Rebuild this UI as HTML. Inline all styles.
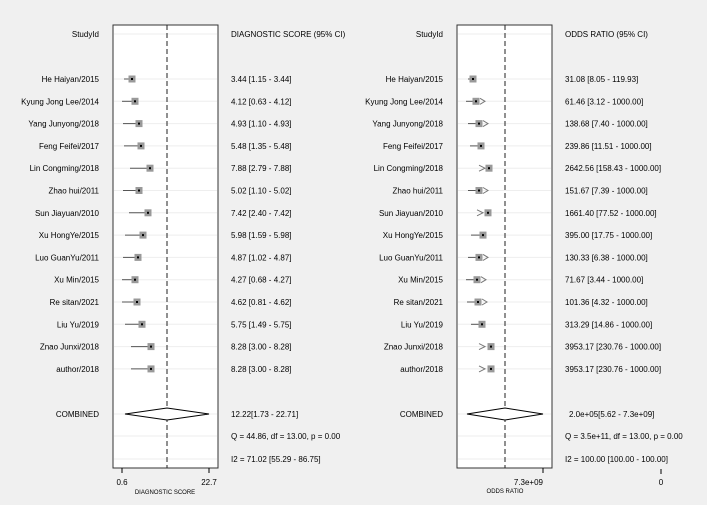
<!DOCTYPE html>
<html><head><style>body{margin:0;background:#f0f0f0}svg{display:block}text{font-family:"Liberation Sans",sans-serif;font-size:8px;fill:#000}</style></head><body>
<svg width="707" height="505" viewBox="0 0 707 505">
<rect width="707" height="505" fill="#f0f0f0"/>
<rect x="113" y="25" width="105" height="443" fill="#fff" stroke="#333" stroke-width="1"/>
<rect x="457" y="25" width="95" height="443" fill="#fff" stroke="#333" stroke-width="1"/>
<g id="rows"></g>
<line x1="167" y1="25" x2="167" y2="468" stroke="#222" stroke-dasharray="5,3"/>
<line x1="505" y1="25" x2="505" y2="468" stroke="#222" stroke-dasharray="5,3"/>
<polygon points="125,414 167,408 209,414 167,420" fill="#fff" stroke="#000"/>
<polygon points="467,414 505,408 543,414 505,420" fill="#fff" stroke="#000"/>
<line x1="122" y1="468" x2="122" y2="473" stroke="#000"/><line x1="209" y1="468" x2="209" y2="473" stroke="#000"/>
<line x1="543" y1="468" x2="543" y2="473" stroke="#000"/><line x1="661" y1="469" x2="661" y2="474" stroke="#000"/>
<text x="122" y="485" text-anchor="middle">0.6</text><text x="209" y="485" text-anchor="middle">22.7</text>
<text x="165" y="494" text-anchor="middle" style="font-size:6px">DIAGNOSTIC SCORE</text>
<text x="543" y="485" text-anchor="end">7.3e+09</text><text x="661" y="485" text-anchor="middle">0</text>
<text x="505" y="493" text-anchor="middle" style="font-size:6px">ODDS RATIO</text>
<text x="99" y="37" text-anchor="end">StudyId</text><text x="231" y="37">DIAGNOSTIC SCORE (95% CI)</text>
<text x="443" y="37" text-anchor="end">StudyId</text><text x="565" y="37">ODDS RATIO (95% CI)</text>
<text x="99" y="417" text-anchor="end">COMBINED</text><text x="443" y="417" text-anchor="end">COMBINED</text>
<text x="231" y="417">12.22[1.73 - 22.71]</text><text x="231" y="439">Q = 44.86, df = 13.00, p =  0.00</text><text x="231" y="462">I2 = 71.02 [55.29 - 86.75]</text>
<text x="569" y="417">2.0e+05[5.62 -  7.3e+09]</text><text x="565" y="439">Q = 3.5e+11, df = 13.00, p =  0.00</text><text x="565" y="462">I2 = 100.00 [100.00 - 100.00]</text>
</svg>
<script>
var d=[["He Haiyan/2015","3.44 [1.15 - 3.44]",132,124,"31.08 [8.05 - 119.93]",473,468,0],
["Kyung Jong Lee/2014","4.12 [0.63 - 4.12]",135,122,"61.46 [3.12 - 1000.00]",476,466,1],
["Yang Junyong/2018","4.93 [1.10 - 4.93]",139,123,"138.68 [7.40 - 1000.00]",479,468,1],
["Feng Feifei/2017","5.48 [1.35 - 5.48]",141,124,"239.86 [11.51 - 1000.00]",481,470,0],
["Lin Congming/2018","7.88 [2.79 - 7.88]",150,130,"2642.56 [158.43 - 1000.00]",489,479,2],
["Zhao hui/2011","5.02 [1.10 - 5.02]",139,123,"151.67 [7.39 - 1000.00]",479,468,1],
["Sun Jiayuan/2010","7.42 [2.40 - 7.42]",148,129,"1661.40 [77.52 - 1000.00]",488,477,2],
["Xu HongYe/2015","5.98 [1.59 - 5.98]",143,125,"395.00 [17.75 - 1000.00]",483,471,0],
["Luo GuanYu/2011","4.87 [1.02 - 4.87]",138,123,"130.33 [6.38 - 1000.00]",479,468,1],
["Xu Min/2015","4.27 [0.68 - 4.27]",135,122,"71.67 [3.44 - 1000.00]",477,466,1],
["Re sitan/2021","4.62 [0.81 - 4.62]",137,122,"101.36 [4.32 - 1000.00]",478,467,1],
["Liu Yu/2019","5.75 [1.49 - 5.75]",142,125,"313.29 [14.86 - 1000.00]",482,471,0],
["Znao Junxi/2018","8.28 [3.00 - 8.28]",151,131,"3953.17 [230.76 - 1000.00]",491,479,2],
["author/2018","8.28 [3.00 - 8.28]",151,131,"3953.17 [230.76 - 1000.00]",491,479,2]];
var h='';var ns='';
[34,414,436,459].forEach(function(y){h+='<line x1="114" x2="217" y1="'+y+'" y2="'+y+'" stroke="#eee"/><line x1="458" x2="551" y1="'+y+'" y2="'+y+'" stroke="#eee"/>';});
d.forEach(function(r,i){var y=79+i*22.3;
h+='<line x1="114" x2="217" y1="'+y+'" y2="'+y+'" stroke="#eee"/><line x1="458" x2="551" y1="'+y+'" y2="'+y+'" stroke="#eee"/>';
h+='<text x="99" y="'+(y+3)+'" text-anchor="end">'+r[0]+'</text><text x="231" y="'+(y+3)+'">'+r[1]+'</text>';
h+='<text x="443" y="'+(y+3)+'" text-anchor="end">'+r[0]+'</text><text x="565" y="'+(y+3)+'">'+r[4]+'</text>';
h+='<line x1="'+r[3]+'" x2="'+r[2]+'" y1="'+y+'" y2="'+y+'" stroke="#555"/><rect x="'+(r[2]-3.5)+'" y="'+(y-3.5)+'" width="7" height="7" fill="#999"/><rect x="'+(r[2]-1)+'" y="'+(y-1)+'" width="2" height="2" fill="#000"/>';
if(r[7]==0)h+='<line x1="'+r[6]+'" x2="'+r[5]+'" y1="'+y+'" y2="'+y+'" stroke="#555"/>';
if(r[7]==1)h+='<line x1="'+r[6]+'" x2="'+r[5]+'" y1="'+y+'" y2="'+y+'" stroke="#555"/><polyline points="'+(r[5]+4)+','+(y-3)+' '+(r[5]+9)+','+y+' '+(r[5]+4)+','+(y+3)+'" fill="none" stroke="#777"/>';
if(r[7]==2)h+='<polyline points="'+(r[6])+','+(y-3)+' '+(r[6]+6)+','+y+' '+(r[6])+','+(y+3)+'" fill="none" stroke="#777"/>';
h+='<rect x="'+(r[5]-3.5)+'" y="'+(y-3.5)+'" width="7" height="7" fill="#999"/><rect x="'+(r[5]-1)+'" y="'+(y-1)+'" width="2" height="2" fill="#000"/>';});
document.getElementById('rows').innerHTML=h;
</script>
</body></html>
